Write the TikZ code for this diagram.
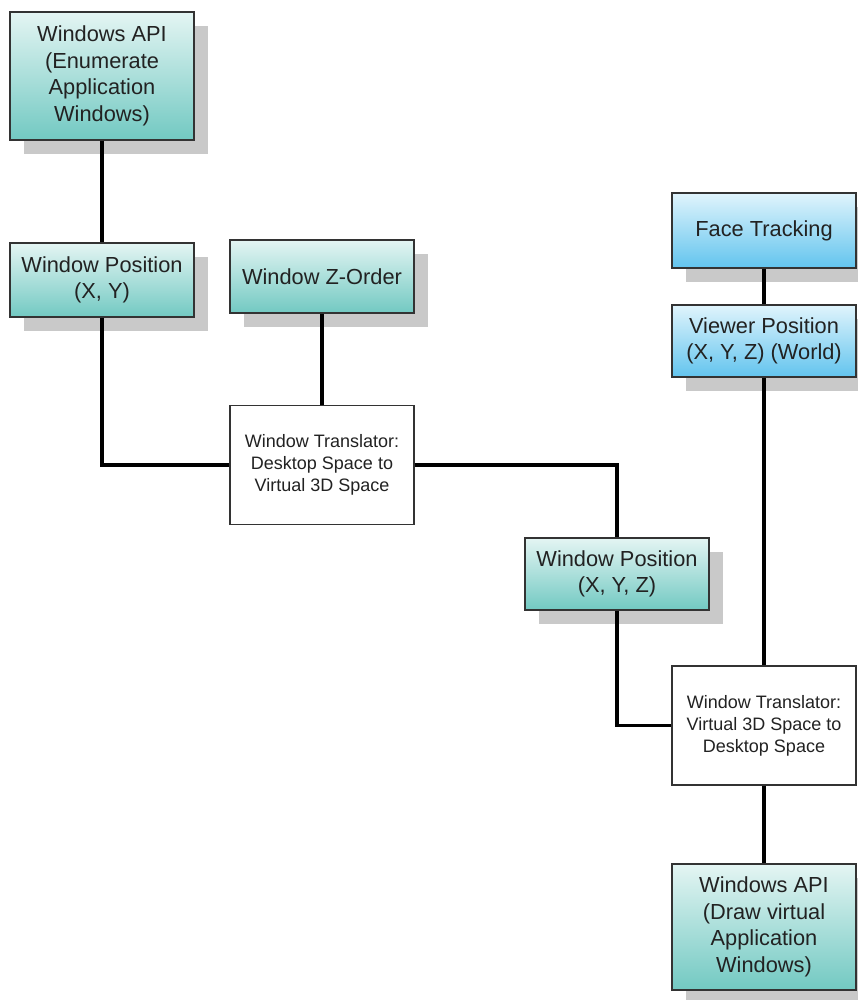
\documentclass[tikz,border=0pt]{standalone}
\usepackage{fontspec}
\setmainfont{Liberation Sans}
\usetikzlibrary{shadows}
\definecolor{tealtop}{HTML}{E4F5F3}
\definecolor{tealbot}{HTML}{72C9C2}
\definecolor{bluetop}{HTML}{E0F4FC}
\definecolor{bluebot}{HTML}{62C4EE}
\definecolor{edge}{HTML}{333333}
\definecolor{txt}{HTML}{222222}
\definecolor{shadowgray}{HTML}{C9C9C9}
\tikzset{
  box/.style={draw=edge, line width=1.4pt, minimum width=184pt, align=center,
    text=txt, inner sep=0pt,
    font=\fontsize{21.8}{26.5}\selectfont,
    drop shadow={shadow xshift=14pt, shadow yshift=-14pt, fill=shadowgray, opacity=1}},
  tealbox/.style={box, top color=tealtop, bottom color=tealbot},
  bluebox/.style={box, top color=bluetop, bottom color=bluebot},
  xlator/.style={draw=edge, line width=1.2pt, fill=white, minimum width=184pt,
    minimum height=119pt, align=center, text=txt, inner sep=0pt,
    font=\fontsize{18}{22}\selectfont},
  link/.style={line width=3.2pt, black}
}
\begin{document}
\begin{tikzpicture}[x=1pt, y=-1pt]
\useasboundingbox (0,0) rectangle (858,1000);

% left column: desktop side
\node[tealbox, minimum height=128pt] (enum) at (102,76)
  {Windows API\\(Enumerate\\Application\\Windows)};
\node[tealbox, minimum height=74pt] (wpxy) at (102,280)
  {Window Position\\(X, Y)};
\node[tealbox, minimum height=73pt] (zord) at (322,276.5)
  {Window Z-Order};
\node[xlator] (tr1) at (322,465)
  {Window Translator:\\Desktop Space to\\Virtual 3D Space};
\node[tealbox, minimum height=72pt] (wpxyz) at (617,574)
  {Window Position\\(X, Y, Z)};

% right column: viewer side
\node[bluebox, minimum height=75pt] (face) at (764,230.5)
  {Face Tracking};
\node[bluebox, minimum height=72pt] (viewer) at (764,341)
  {Viewer Position\\(X, Y, Z) (World)};
\node[xlator] (tr2) at (764,725.5)
  {Window Translator:\\Virtual 3D Space to\\Desktop Space};
\node[tealbox, minimum height=126pt] (draw) at (764,927)
  {Windows API\\(Draw virtual\\Application\\Windows)};

% connectors
\draw[link] (enum.south) -- (wpxy.north);
\draw[link] (wpxy.south) |- (tr1.west);
\draw[link] (zord.south) -- (tr1.north);
\draw[link] (tr1.east) -| (wpxyz.north);
\draw[link] (wpxyz.south) |- (tr2.west);
\draw[link] (face.south) -- (viewer.north);
\draw[link] (viewer.south) -- (tr2.north);
\draw[link] (tr2.south) -- (draw.north);
\end{tikzpicture}
\end{document}
